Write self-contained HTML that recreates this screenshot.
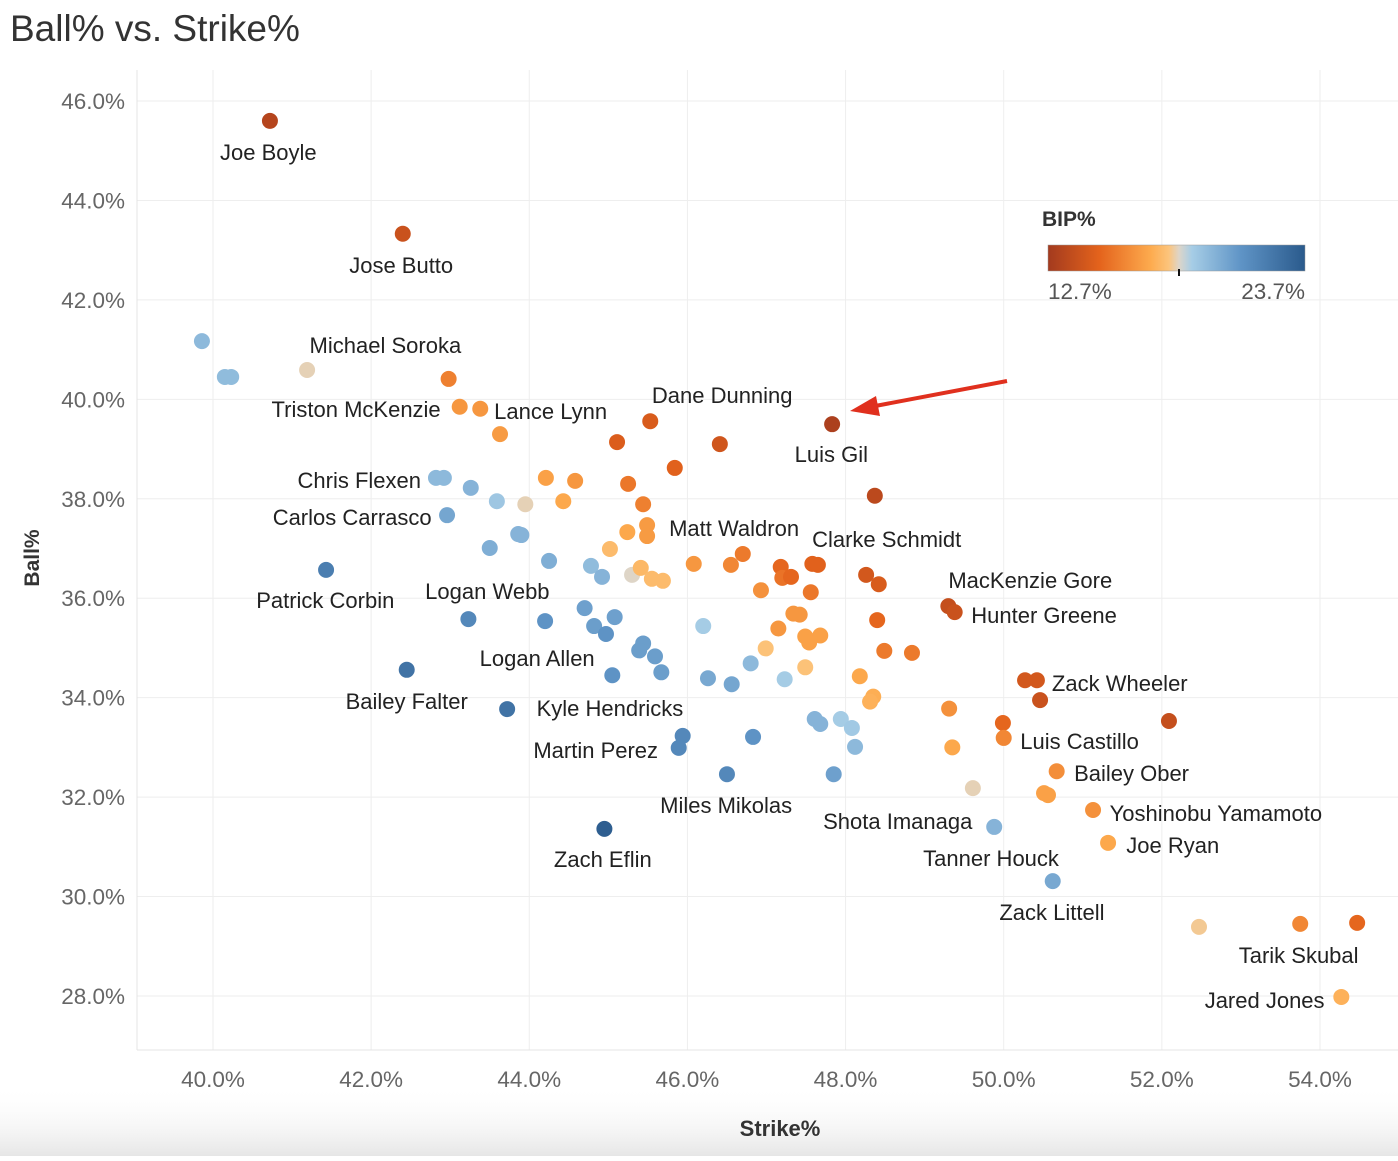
<!DOCTYPE html>
<html><head><meta charset="utf-8"><style>
body{margin:0;background:#fff;width:1398px;height:1156px;overflow:hidden;font-family:"Liberation Sans",sans-serif}
</style></head><body>
<svg width="1398" height="1156" xmlns="http://www.w3.org/2000/svg" font-family="Liberation Sans, sans-serif">
<defs>
<linearGradient id="bip" x1="0" x2="1" y1="0" y2="0">
<stop offset="0" stop-color="#a33a1e"/><stop offset="0.2" stop-color="#e4631c"/><stop offset="0.4" stop-color="#fdab4e"/><stop offset="0.47" stop-color="#fcc47c"/><stop offset="0.51" stop-color="#ddd5c9"/><stop offset="0.56" stop-color="#a6cde6"/><stop offset="0.75" stop-color="#5f94c6"/><stop offset="1" stop-color="#2a5a8c"/>
</linearGradient>
<linearGradient id="shade" x1="0" x2="0" y1="0" y2="1"><stop offset="0" stop-color="#fff" stop-opacity="0"/><stop offset="1" stop-color="#e6e6e6"/></linearGradient>
</defs>
<rect x="0" y="1085" width="1398" height="71" fill="url(#shade)"/>
<text x="10" y="41" font-size="37" fill="#333">Ball% vs. Strike%</text>
<g id="grid"></g><g id="axes"></g><g id="labels"></g><g id="points"></g>
<text x="780" y="1136" font-size="22" fill="#333" text-anchor="middle" font-weight="bold">Strike%</text>
<text transform="translate(39,558) rotate(-90)" font-size="21" fill="#333" text-anchor="middle" font-weight="bold">Ball%</text>
<g>
<text x="1042" y="226" font-size="21" fill="#333" font-weight="bold">BIP%</text>
<rect x="1048" y="245" width="257" height="26" fill="url(#bip)" stroke="#999" stroke-width="0.5"/>
<line x1="1179" y1="269" x2="1179" y2="276" stroke="#111" stroke-width="2"/>
<text x="1048" y="299" font-size="22.5" fill="#555">12.7%</text>
<text x="1305" y="299" font-size="22.5" fill="#555" text-anchor="end">23.7%</text>
</g>
<g>
<line x1="1007" y1="381" x2="870" y2="407" stroke="#e0301e" stroke-width="4"/>
<polygon points="850,411 876,396 880,416" fill="#e0301e"/>
</g>
</svg>
<script>
const xTicks=[40,42,44,46,48,50,52,54];
const yTicks=[28,30,32,34,36,38,40,42,44,46];
const strike=[
40.72,42.40,39.86,40.15,40.23,41.19,42.98,43.12,43.38,43.63,
45.11,45.53,46.41,45.84,47.83,48.37,42.82,42.92,43.26,43.59,
43.95,44.21,44.58,44.43,45.25,45.44,45.49,45.49,45.24,42.96,
43.50,43.86,43.90,44.25,45.02,44.78,44.92,45.30,45.41,45.55,
45.69,46.08,46.55,46.70,47.18,47.20,47.31,47.58,47.65,47.56,
46.93,48.26,48.42,49.30,49.38,48.40,48.49,48.84,41.43,43.23,
44.20,44.70,44.82,44.97,45.08,45.44,45.39,45.59,45.67,45.05,
46.20,46.26,46.56,46.80,46.99,47.15,47.42,47.34,47.49,47.68,
47.54,47.49,47.23,48.18,48.35,48.31,49.31,49.35,49.99,50.00,
50.27,50.42,50.46,52.09,50.67,50.51,50.56,51.13,51.32,49.61,
49.88,50.62,52.47,53.75,54.47,54.27,42.45,43.72,45.94,45.89,
46.83,46.50,44.95,47.61,47.68,47.94,48.08,48.12,47.85];
const ball=[
45.60,43.33,41.17,40.45,40.45,40.59,40.41,39.85,39.81,39.30,
39.14,39.56,39.10,38.62,39.50,38.06,38.42,38.42,38.22,37.95,
37.89,38.42,38.36,37.95,38.30,37.89,37.47,37.25,37.33,37.67,
37.01,37.29,37.27,36.75,36.99,36.65,36.43,36.47,36.61,36.39,
36.35,36.69,36.67,36.89,36.63,36.41,36.43,36.69,36.67,36.12,
36.16,36.47,36.28,35.84,35.72,35.56,34.94,34.90,36.57,35.58,
35.54,35.80,35.44,35.28,35.62,35.09,34.95,34.83,34.51,34.45,
35.44,34.39,34.27,34.69,34.99,35.39,35.67,35.69,35.23,35.25,
35.11,34.61,34.37,34.43,34.02,33.92,33.78,33.00,33.49,33.19,
34.35,34.35,33.95,33.53,32.52,32.08,32.04,31.74,31.08,32.18,
31.40,30.31,29.39,29.45,29.47,27.98,34.56,33.77,33.23,32.99,
33.21,32.46,31.36,33.57,33.47,33.57,33.39,33.01,32.46];
const bip=[
13.3,14.0,19.6,19.5,19.5,18.2,15.8,16.5,16.5,16.6,
14.6,14.5,14.2,14.8,13.0,13.5,19.6,19.6,19.8,19.1,
18.2,16.8,16.5,17.0,15.5,15.8,16.6,16.6,17.0,20.3,
20.0,19.8,19.8,20.0,17.6,19.5,19.8,18.3,17.5,17.6,
17.6,16.5,16.0,15.6,15.0,15.4,15.0,14.8,14.8,15.5,
16.3,14.3,14.5,13.8,14.0,15.0,15.6,15.6,22.0,21.5,
21.0,20.5,20.6,21.0,20.5,20.6,20.6,20.6,20.6,21.0,
18.9,20.2,20.3,19.6,17.8,16.5,16.5,16.5,16.8,16.8,
16.8,17.8,18.9,17.0,17.2,17.3,16.3,17.0,15.0,16.0,
14.3,14.3,14.0,13.8,16.2,16.8,16.8,16.3,17.0,18.2,
19.8,20.2,18.0,16.0,15.0,17.3,22.5,22.5,21.5,21.5,
21.0,21.5,23.5,19.8,19.8,18.9,19.0,19.6,20.5];
const names=["Joe Boyle","Jose Butto","Michael Soroka","Triston McKenzie","Lance Lynn","Dane Dunning","Luis Gil","Chris Flexen","Carlos Carrasco","Matt Waldron","Clarke Schmidt","MacKenzie Gore","Hunter Greene","Patrick Corbin","Logan Webb","Logan Allen","Bailey Falter","Kyle Hendricks","Martin Perez","Zack Wheeler","Luis Castillo","Bailey Ober","Miles Mikolas","Shota Imanaga","Yoshinobu Yamamoto","Joe Ryan","Tanner Houck","Zach Eflin","Zack Littell","Tarik Skubal","Jared Jones"];
const labelX=[40.70,42.38,42.18,41.81,44.27,46.44,47.82,41.85,41.76,46.59,48.52,49.30,49.59,41.42,43.47,44.10,42.45,45.02,44.84,50.61,50.21,50.89,46.49,48.66,51.34,51.55,49.84,44.93,50.61,53.73,53.30];
const labelY=[44.97,42.70,41.09,39.81,39.77,40.09,38.90,38.38,37.63,37.41,37.19,36.37,35.66,35.96,36.14,34.80,33.93,33.79,32.95,34.29,33.13,32.48,31.84,31.52,31.68,31.04,30.77,30.75,29.69,28.82,27.92];
const labelAnchor=["middle","middle","middle","middle","middle","middle","middle","middle","middle","middle","middle","start","start","middle","middle","middle","middle","middle","middle","start","start","start","middle","middle","start","start","middle","middle","middle","middle","middle"];
const NS="http://www.w3.org/2000/svg";
const X=v=>213+(v-40)*79.07, Y=v=>101+(46-v)*49.72;
const stops=[[0,[163,58,30]],[0.2,[228,99,28]],[0.4,[253,171,78]],[0.47,[252,196,124]],[0.51,[221,213,201]],[0.56,[166,205,230]],[0.75,[95,148,198]],[1,[42,90,140]]];
function col(b){let t=Math.max(0,Math.min(1,(b-12.7)/11));for(let i=1;i<stops.length;i++){if(t<=stops[i][0]){const a=stops[i-1],c=stops[i],f=(t-a[0])/(c[0]-a[0]);return 'rgb('+a[1].map((v,k)=>Math.round(v+(c[1][k]-v)*f)).join(',')+')';}}return 'rgb(42,90,140)';}
const grid=document.getElementById('grid'),axes=document.getElementById('axes'),lab=document.getElementById('labels'),pts=document.getElementById('points');
xTicks.forEach(t=>{const l=document.createElementNS(NS,'line');l.setAttribute('x1',X(t));l.setAttribute('x2',X(t));l.setAttribute('y1',70);l.setAttribute('y2',1050);l.setAttribute('stroke','#eee');


grid.appendChild(l);
const tx=document.createElementNS(NS,'text');tx.setAttribute('x',X(t));tx.setAttribute('y',1087);tx.setAttribute('font-size','22.5');tx.setAttribute('fill','#666');tx.setAttribute('text-anchor','middle');tx.textContent=t.toFixed(1)+'%';


axes.appendChild(tx);});
yTicks.forEach(t=>{const l=document.createElementNS(NS,'line');l.setAttribute('x1',137);l.setAttribute('x2',1398);l.setAttribute('y1',Y(t));l.setAttribute('y2',Y(t));l.setAttribute('stroke','#eee');


grid.appendChild(l);
const tx=document.createElementNS(NS,'text');tx.setAttribute('x',125);tx.setAttribute('y',Y(t)+8);tx.setAttribute('font-size','22.5');tx.setAttribute('fill','#666');tx.setAttribute('text-anchor','end');tx.textContent=t.toFixed(1)+'%';


axes.appendChild(tx);});
const ax=document.createElementNS(NS,'line');ax.setAttribute('x1',137);ax.setAttribute('x2',137);ax.setAttribute('y1',70);ax.setAttribute('y2',1050);ax.setAttribute('stroke','#e4e4e4');


grid.appendChild(ax);
const bx=document.createElementNS(NS,'line');bx.setAttribute('x1',137);bx.setAttribute('x2',1398);bx.setAttribute('y1',1050);bx.setAttribute('y2',1050);bx.setAttribute('stroke','#e4e4e4');


grid.appendChild(bx);
names.forEach((n,i)=>{const tx=document.createElementNS(NS,'text');tx.setAttribute('x',X(labelX[i]));tx.setAttribute('y',Y(labelY[i])+8);tx.setAttribute('font-size','22');tx.setAttribute('fill','#222');tx.setAttribute('text-anchor',labelAnchor[i]);tx.textContent=n;


lab.appendChild(tx);});
strike.forEach((s,i)=>{const c=document.createElementNS(NS,'circle');c.setAttribute('cx',X(s));c.setAttribute('cy',Y(ball[i]));c.setAttribute('r',8);c.setAttribute('fill',col(bip[i]));


pts.appendChild(c);});
</script>
</body></html>
